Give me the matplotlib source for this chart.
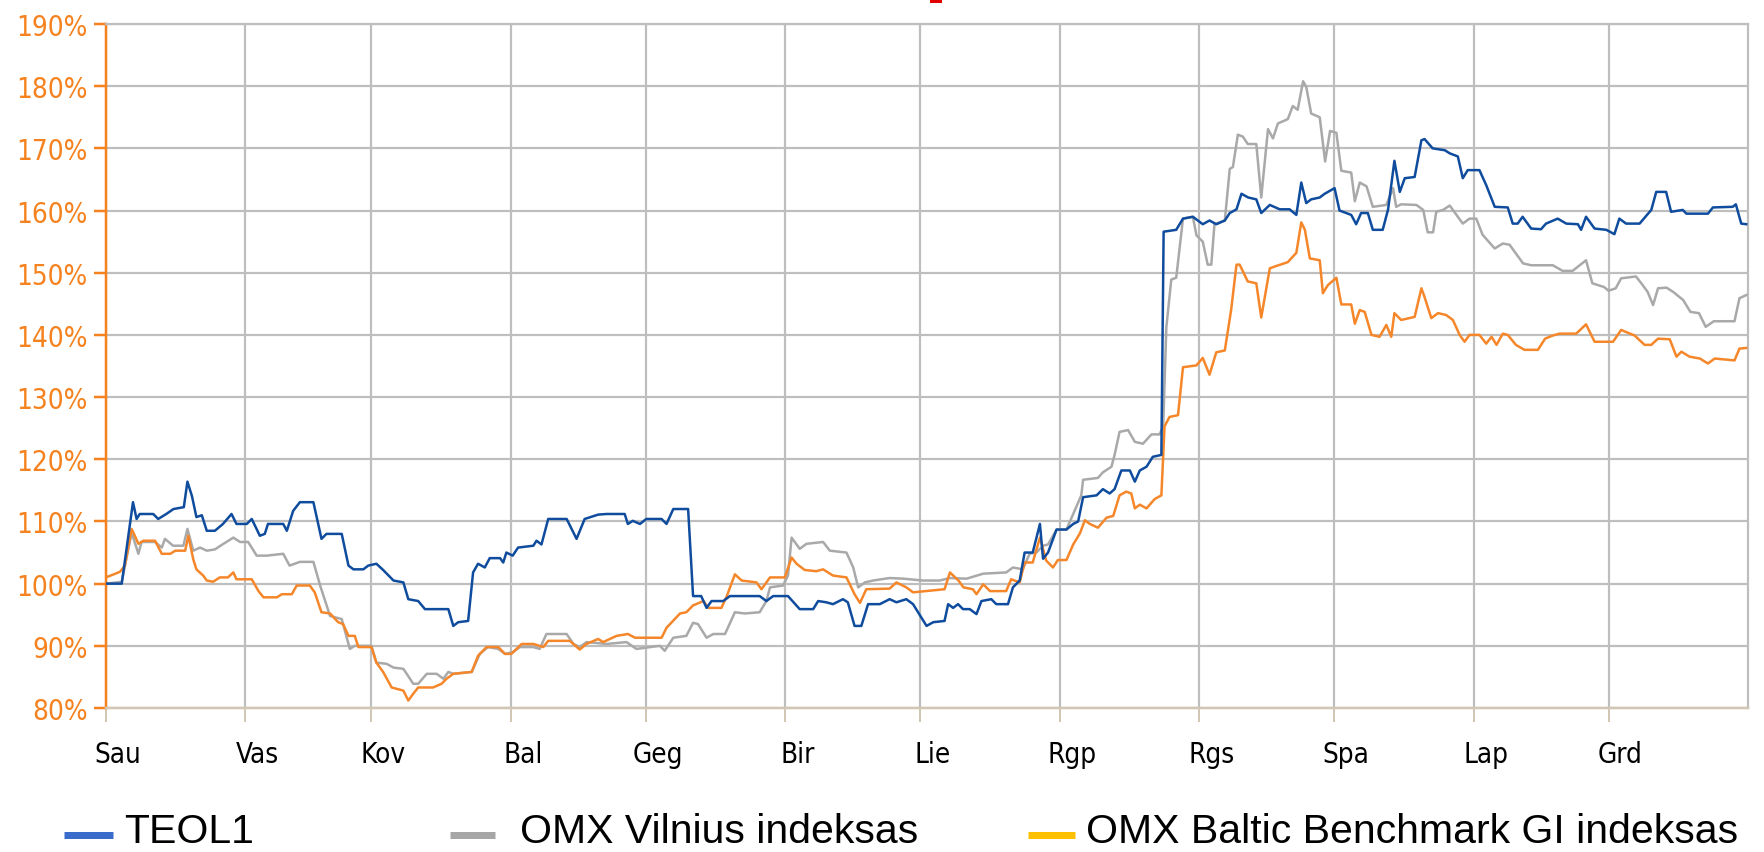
import matplotlib
matplotlib.use("Agg")
import matplotlib.pyplot as plt
from matplotlib.lines import Line2D
from matplotlib.patches import Rectangle
from matplotlib.font_manager import FontProperties

# ---------------- data ----------------
month_labels = ["Sau", "Vas", "Kov", "Bal", "Geg", "Bir", "Lie", "Rgp", "Rgs", "Spa", "Lap", "Grd"]
month_start_days = [0, 31, 59, 90, 120, 151, 181, 212, 243, 273, 304, 334]
year_days = 365

y_ticks = [80, 90, 100, 110, 120, 130, 140, 150, 160, 170, 180, 190]

series_names = ["TEOL1", "OMX Vilnius indeksas", "OMX Baltic Benchmark GI indeksas"]

teo_days = [0, 3.5, 6, 6.8, 7.5, 10.5, 11.6, 13.4, 15, 17.3, 18.1, 19.1, 20.1, 21.3, 22.4, 24.2, 26, 27.9, 29,
            31.3, 32.4, 34.2, 35.3, 36, 39.4, 40.2, 41.6, 43.1, 46.1, 47.9, 49, 52.4, 53.9, 55, 57.2, 58.3, 60.1,
            61.6, 63.9, 66.1, 67.2, 69.4, 70.9, 76.1, 77.2, 78.3, 80.5, 81.6, 82.7, 84.2, 85.3, 87.6, 88.3, 89,
            90.4, 91.6, 95, 95.7, 96.8, 98.3, 102.4, 104.6, 106.4, 109.4, 111.3, 115.3, 116, 117.1, 118.7, 120.1,
            123.5, 124.6, 126.1, 129.4, 130.5, 132.3, 133.5, 134.6, 137.2, 138.7, 145.3, 146.8, 148.3, 151.6,
            154.2, 157.2, 158.3, 160.1, 161.6, 163.8, 164.9, 166.4, 167.9, 169.4, 172, 174.2, 175.7, 177.9,
            179.4, 181.3, 182.4, 183.9, 186.4, 187.2, 188.3, 189.4, 190.5, 192, 193.5, 194.6, 196.8, 197.9,
            200.5, 201.6, 203.1, 204.2, 206, 207.6, 208.3, 209.4, 211.3, 213.5, 215, 216.1, 217.2, 220.2, 221.6,
            223.1, 224.2, 225.7, 227.6, 228.7, 229.8, 231.3, 232.7, 234.6, 235.1, 237.9, 239.4, 241.6, 243.8,
            245.3, 246.8, 248.7, 249.8, 251.3, 252.4, 253.9, 255.7, 256.8, 258.7, 260.9, 263.1, 264.6, 265.7,
            266.8, 267.9, 269.8, 270.9, 273.1, 274.2, 276.8, 277.9, 279, 280.5, 281.6, 283.8, 285, 286.4, 287.6,
            288.7, 290.9, 292.4, 293.1, 294.9, 297.6, 298.7, 300.5, 301.6, 302.7, 305.3, 306.8, 308.7, 311.6,
            312.7, 313.8, 314.9, 316.8, 319, 320.1, 322.7, 324.6, 327.2, 327.9, 329, 330.9, 333.5, 335.3, 336.4,
            337.9, 340.9, 343.5, 344.6, 346.8, 347.9, 350.5, 351.3, 356.1, 357.2, 361.6, 362.3, 363.5, 364.6]
teo_vals = [100, 100, 113.1, 110.4, 111.2, 111.2, 110.4, 111.2, 112.0, 112.3, 116.4, 114.1, 110.7, 111.0, 108.5,
            108.5, 109.6, 111.2, 109.6, 109.6, 110.4, 107.7, 108.0, 109.6, 109.6, 108.5, 111.7, 113.1, 113.1,
            107.2, 108.0, 108.0, 102.9, 102.3, 102.3, 102.9, 103.2, 102.2, 100.5, 100.2, 97.5, 97.2, 95.9, 95.9,
            93.2, 93.8, 94.0, 101.8, 103.2, 102.6, 104.1, 104.1, 103.4, 105.0, 104.5, 105.8, 106.1, 106.9, 106.3,
            110.4, 110.4, 107.2, 110.4, 111.1, 111.2, 111.2, 109.6, 110.1, 109.6, 110.4, 110.4, 109.6, 112.0,
            112.0, 98.0, 98.0, 96.1, 97.2, 97.2, 98.0, 98.0, 97.2, 98.0, 98.0, 95.9, 95.9, 97.2, 97.0, 96.7, 97.5,
            97.0, 93.2, 93.2, 96.7, 96.7, 97.5, 97.0, 97.5, 96.7, 94.5, 93.2, 93.8, 94.0, 96.7, 96.1, 96.7, 95.9,
            95.9, 95.1, 97.2, 97.5, 96.7, 96.7, 99.4, 100.5, 105.0, 105.0, 109.6, 104.0, 105.0, 108.7, 108.7,
            109.6, 110.0, 113.9, 114.2, 115.2, 114.5, 115.2, 118.2, 118.2, 116.4, 118.2, 118.8, 120.4, 120.7,
            156.6, 156.9, 158.7, 159.0, 157.8, 158.4, 157.8, 158.4, 159.6, 160.2, 162.7, 162.1, 161.8, 159.6,
            160.9, 160.2, 160.2, 159.3, 164.5, 161.2, 161.8, 162.1, 162.7, 163.6, 160.0, 159.3, 157.8, 159.6,
            159.6, 156.9, 156.9, 160.2, 168.0, 163.0, 165.2, 165.4, 171.3, 171.5, 170.0, 169.7, 169.2, 168.7,
            165.2, 166.5, 166.5, 164.1, 160.6, 160.5, 157.9, 157.9, 159.0, 157.1, 157.0, 157.9, 158.7, 157.9,
            157.8, 156.9, 159.0, 157.1, 156.9, 156.2, 158.7, 157.9, 157.9, 160.1, 163.0, 163.0, 159.8, 160.1,
            159.5, 159.5, 160.5, 160.6, 161.0, 157.9, 157.8]

vil_days = [0, 3.5, 5.7, 7.2, 7.9, 10.9, 12.4, 13.1, 14.9, 17.2, 18.1, 19.4, 20.9, 22.4, 24.2, 26.1, 28.3, 29.8,
            31.6, 33.5, 35.7, 39.4, 40.8, 43.1, 46.1, 47.6, 49.8, 52.4, 54.2, 55.3, 59, 60.1, 62.4, 63.9, 66.1,
            68.3, 69.4, 71.3, 73.5, 75, 76.1, 77.2, 81.3, 83.1, 84.9, 87.2, 88.7, 90.5, 92, 95, 96.4, 97.9, 102.4,
            103.9, 105.3, 106.8, 111.3, 115.7, 117.9, 123.1, 124.2, 126.1, 129, 130.5, 131.6, 133.5, 135, 137.6,
            139.8, 142, 145.3, 146.8, 147.6, 150.5, 151.6, 152.4, 154.2, 155.7, 159.4, 160.9, 164.6, 166.1, 167.2,
            168.7, 170.5, 174.2, 177.2, 181.6, 185.3, 187.6, 191.3, 195, 200.1, 201.6, 203.8, 205.3, 206.8, 208.3,
            209.4, 211.3, 213.5, 215, 216.8, 217.2, 220.5, 221.6, 223.5, 224.2, 225.3, 227.2, 228.7, 230.5, 232.4,
            234.2, 235, 235.7, 236.8, 237.9, 239.4, 241.6, 242.4, 243.8, 244.9, 245.7, 246.4, 248.7, 249.8, 250.5,
            251.6, 252.7, 253.8, 255.7, 256.8, 258.3, 259.4, 260.5, 262.7, 263.8, 264.9, 266.1, 266.8, 267.9,
            269.8, 271, 272.1, 273.5, 274.6, 276.8, 277.6, 278.7, 280.2, 281.6, 284.6, 286.1, 286.8, 287.9, 291.3,
            292.8, 293.8, 295, 295.7, 297.2, 298.7, 301.6, 303.1, 304.6, 306, 308.7, 310.5, 312, 315, 316.8,
            321.6, 323.8, 326, 329, 330.4, 333, 334, 335.6, 336.8, 340.1, 341.6, 342.7, 343.9, 345, 346.9, 348.4,
            350.6, 352.2, 354.1, 355.6, 357.4, 362, 363.1, 364.6]
vil_vals = [100, 100.3, 108.2, 104.8, 106.7, 106.7, 105.8, 107.2, 106.1, 106.1, 108.8, 105.3, 105.8, 105.3, 105.5,
            106.4, 107.4, 106.7, 106.7, 104.5, 104.5, 104.8, 102.9, 103.5, 103.5, 99.7, 94.8, 94.3, 89.5, 90.0,
            90.0, 87.3, 87.1, 86.5, 86.3, 83.9, 83.9, 85.5, 85.5, 84.7, 85.8, 85.5, 85.8, 88.7, 89.8, 89.5, 88.7,
            89.0, 89.8, 89.8, 89.5, 91.9, 91.9, 90.3, 89.8, 90.6, 90.3, 90.6, 89.5, 90.0, 89.2, 91.3, 91.6, 93.7,
            93.5, 91.3, 91.9, 91.9, 95.4, 95.2, 95.4, 97.2, 99.4, 99.7, 101.3, 107.4, 105.6, 106.4, 106.7, 105.3,
            105.0, 102.6, 99.4, 100.2, 100.5, 100.9, 100.8, 100.5, 100.5, 100.9, 100.8, 101.6, 101.8, 102.6, 102.3,
            104.8, 105.0, 106.1, 106.3, 108.7, 108.7, 111.2, 114.2, 116.7, 117.0, 117.9, 118.8, 120.7, 124.4,
            124.7, 122.8, 122.5, 124.0, 124.0, 125.3, 141.2, 148.9, 149.2, 158.7, 159.0, 156.0, 155.0, 151.3,
            151.3, 157.8, 158.4, 166.7, 167.0, 172.2, 171.9, 170.7, 170.7, 162.1, 173.1, 171.6, 174.0, 174.7,
            176.8, 176.2, 180.8, 179.9, 175.6, 175.0, 167.9, 172.8, 172.5, 166.4, 166.1, 161.5, 164.5, 163.9,
            160.6, 160.9, 163.6, 160.6, 161.0, 160.9, 160.1, 156.5, 156.5, 159.8, 160.1, 160.8, 157.9, 158.7,
            158.7, 156.1, 153.9, 154.7, 154.5, 151.5, 151.2, 151.2, 150.3, 150.3, 152.0, 148.3, 147.7, 147.1,
            147.5, 149.1, 149.4, 148.0, 146.9, 144.8, 147.5, 147.6, 146.9, 145.6, 143.7, 143.5, 141.3, 142.2,
            142.2, 145.9, 146.4]

bal_days = [0, 3.1, 4.2, 5.7, 6.4, 7.2, 8.3, 10.9, 12.4, 14.3, 15.4, 17.6, 18.3, 19.4, 20.1, 21.6, 22.4, 23.8,
            25.3, 27.1, 28.3, 29, 32.4, 33.9, 35, 38, 39.1, 41.3, 42.4, 45.3, 46.4, 47.9, 49.8, 51.6, 52.7, 53.9,
            55.3, 56.1, 59, 60.1, 61.6, 63.5, 66.1, 67.2, 68.3, 69.4, 72.7, 74.6, 75.7, 77.2, 81.3, 82.7, 84.6,
            87.2, 88.7, 90.1, 92.4, 95, 97.2, 98.3, 103.1, 105.3, 106.8, 109.4, 110.5, 113.5, 116, 117.6, 123.5,
            124.6, 127.6, 129, 130.5, 132.8, 133.9, 136.8, 138, 139.8, 141.3, 144.6, 145.7, 147.6, 150.9, 152.4,
            153.5, 155.3, 157.9, 159.4, 161.6, 164.6, 166.4, 167.6, 169, 174.2, 175.7, 177.9, 179.4, 186.4, 187.6,
            189.5, 190.6, 192.7, 193.5, 195, 196.5, 200.1, 201.2, 203.1, 204.2, 206, 207.6, 209, 210.5, 211.6,
            213.5, 215, 216.5, 217.6, 218.7, 220.5, 222.4, 223.9, 225.3, 226.8, 227.9, 228.7, 229.8, 231.3, 233.1,
            234.6, 235.3, 236.4, 238.3, 239.4, 242.4, 243.8, 245.3, 246.8, 248.7, 250.1, 251.3, 252, 253.8, 255.7,
            256.8, 258.7, 259.8, 262.7, 264.6, 265.7, 266.5, 267.6, 269.8, 270.5, 271.6, 273.5, 274.6, 276.8,
            277.6, 278.7, 279.8, 281.3, 283.1, 284.6, 285.7, 286.4, 287.9, 290.9, 292.4, 293.1, 294.6, 296.1,
            297.9, 299.4, 300.9, 302, 303.1, 305.3, 306.8, 308, 309.1, 310.5, 311.6, 313.4, 315.3, 318.3, 319.9,
            321.6, 323.1, 326.8, 329, 330.9, 335, 336.8, 339.8, 342, 343.5, 345, 347.6, 349.1, 350.2, 352, 354.3,
            356.1, 357.6, 362, 363.1, 364.6]
bal_vals = [101.0, 101.9, 102.9, 108.8, 107.7, 106.4, 106.9, 106.9, 104.8, 104.8, 105.3, 105.3, 107.7, 103.9,
            102.3, 101.3, 100.5, 100.3, 101.0, 101.0, 101.8, 100.7, 100.7, 98.8, 97.8, 97.8, 98.3, 98.3, 99.7,
            99.7, 98.6, 95.4, 95.2, 93.8, 93.5, 91.6, 91.6, 89.8, 89.8, 87.3, 85.8, 83.3, 82.8, 81.2, 82.3, 83.3,
            83.3, 83.9, 84.7, 85.5, 85.8, 88.4, 89.8, 89.8, 88.7, 88.7, 90.3, 90.3, 89.8, 90.8, 90.8, 89.4, 90.3,
            91.1, 90.6, 91.6, 91.9, 91.3, 91.3, 92.9, 95.2, 95.4, 96.5, 97.2, 96.1, 96.1, 98.0, 101.5, 100.5,
            100.2, 99.1, 101.0, 101.0, 104.2, 103.2, 102.2, 102.0, 102.3, 101.3, 101.0, 98.3, 96.9, 99.1, 99.2,
            100.2, 99.4, 98.6, 99.1, 101.8, 100.5, 99.4, 99.1, 98.3, 99.9, 98.8, 98.8, 100.7, 100.2, 103.4, 103.4,
            107.4, 103.7, 102.6, 103.8, 103.8, 106.3, 108.1, 110.2, 109.6, 109.0, 110.6, 110.9, 114.2, 114.8,
            114.5, 112.1, 112.7, 112.1, 113.6, 114.2, 125.3, 126.8, 127.1, 134.8, 135.1, 136.3, 133.6, 137.2,
            137.5, 144.0, 151.3, 151.3, 148.6, 148.3, 142.8, 150.7, 151.0, 151.7, 153.2, 158.1, 156.9, 152.3,
            152.0, 146.7, 148.0, 149.2, 144.9, 144.9, 141.8, 144.0, 143.7, 140.0, 139.7, 141.6, 139.7, 143.5,
            142.4, 142.9, 147.5, 146.1, 142.7, 143.5, 143.2, 142.4, 140.0, 138.9, 140.0, 140.0, 138.6, 139.7,
            138.4, 140.2, 140.0, 138.4, 137.6, 137.6, 139.4, 139.9, 140.2, 140.2, 141.7, 138.9, 138.9, 140.8,
            139.9, 138.4, 138.4, 139.4, 139.3, 136.5, 137.3, 136.5, 136.2, 135.4, 136.2, 135.9, 137.8, 137.9]

# ---------------- style ----------------
W, H = 1765, 853
DPI = 100
PX = 72.0 / DPI  # points per pixel
DAY_PX = (1748 - 106) / year_days  # pixels per day on the x axis

c_blue = "#0F4C9E"
c_gray = "#A9A9A9"
c_orange = "#F5872A"
c_axis_orange = "#F5821F"
c_grid = "#BEBEBE"
c_beige = "#D2C6B4"
leg_colors = ["#3A6CCB", "#A6A6A6", "#FFC000"]

fig = plt.figure(figsize=(W / DPI, H / DPI), dpi=DPI)
fig.patch.set_facecolor("white")
ax = fig.add_axes([106 / W, (H - 709) / H, (1748 - 106) / W, (709 - 25) / H])

ax.plot(vil_days, vil_vals, color=c_gray, lw=2.5 * PX, zorder=3)
ax.plot(bal_days, bal_vals, color=c_orange, lw=2.5 * PX, zorder=4)
ax.plot(teo_days, teo_vals, color=c_blue, lw=2.5 * PX, zorder=5)

ax.set_xlim(0, year_days)
ax.set_ylim(y_ticks[0], y_ticks[-1])

tick_fp = FontProperties(family="DejaVu Sans", stretch="condensed", size=20)

ax.set_yticks(y_ticks)
ax.set_yticklabels([f"{v}%" for v in y_ticks], fontproperties=tick_fp, color=c_axis_orange)

# major x ticks at month starts (no labels); labels on minor ticks shifted ~12 px right
label_shift_days = 12 / DAY_PX
ax.set_xticks(month_start_days)
ax.set_xticklabels([""] * len(month_start_days))
ax.set_xticks([d + label_shift_days for d in month_start_days], minor=True)
ax.set_xticklabels(month_labels, minor=True, fontproperties=tick_fp, color="black")
ax.set_yticks([], minor=True)

ax.tick_params(axis="y", which="major", direction="out", length=12 * PX, width=2.5 * PX,
               color=c_axis_orange, pad=6 * PX)
ax.tick_params(axis="x", which="major", direction="out", length=14 * PX, width=2 * PX, color=c_beige)
ax.tick_params(axis="x", which="minor", length=0, pad=32 * PX)

ax.grid(True, which="major", color=c_grid, lw=2.2 * PX, zorder=1)
ax.grid(False, which="minor")
ax.set_axisbelow(True)

ax.spines["left"].set_color(c_axis_orange)
ax.spines["left"].set_linewidth(2.5 * PX)
ax.spines["bottom"].set_color(c_beige)
ax.spines["bottom"].set_linewidth(2.5 * PX)
for s in ("top", "right"):
    ax.spines[s].set_color(c_grid)
    ax.spines[s].set_linewidth(2.2 * PX)

# legend (manually laid out as in the reference)
leg_line_x = [(64, 113), (450, 495), (1028, 1075)]
leg_text_x = [124, 520, 1086]
leg_y_line = 836
leg_y_base = 843
for name, col, (x0, x1), tx in zip(series_names, leg_colors, leg_line_x, leg_text_x):
    fig.add_artist(Line2D([x0 / W, x1 / W], [1 - leg_y_line / H] * 2, color=col, lw=7 * PX,
                          transform=fig.transFigure, solid_capstyle="butt"))
    fig.text(tx / W, 1 - leg_y_base / H, name, fontsize=29.5, family="Liberation Sans",
             va="baseline", ha="left", color="black")

# clipped red title fragment at the top
fig.add_artist(Rectangle((930 / W, 1 - 4 / H), 12 / W, 4 / H, color="#E00000",
                         transform=fig.transFigure, lw=0))

fig.savefig("out.png", dpi=DPI)
